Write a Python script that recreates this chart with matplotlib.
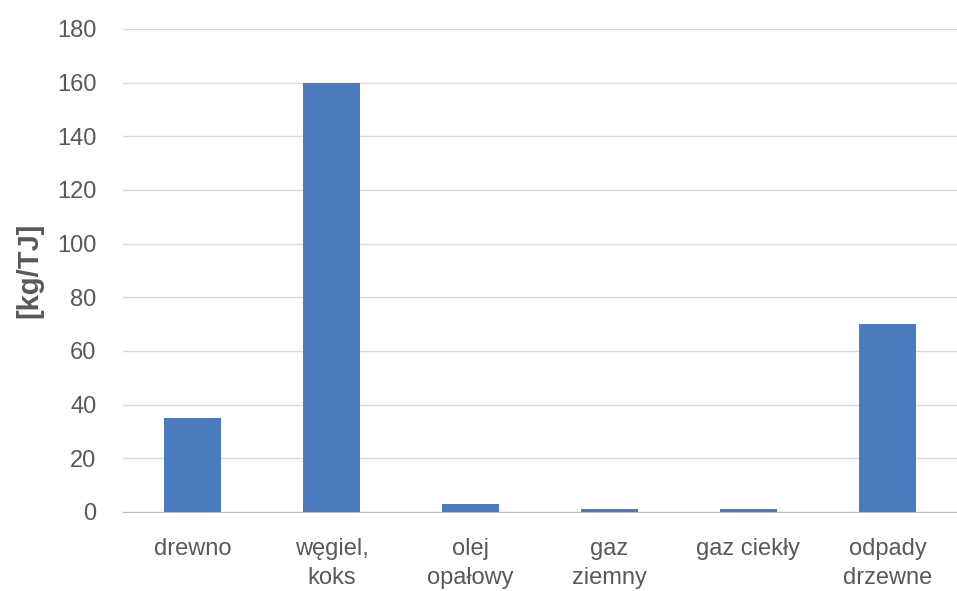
import numpy as np
import matplotlib.pyplot as plt

plt.rcParams['font.family'] = ['Liberation Sans', 'DejaVu Sans']

# dane
kategorie = ["drewno", "węgiel,\nkoks", "olej\nopałowy", "gaz\nziemny", "gaz ciekły", "odpady\ndrzewne"]
wartosci = [35, 160, 3, 1, 1, 70]

fig = plt.figure(figsize=(9.57, 5.91), dpi=100)
ax = fig.add_axes([0.1285, 0.1337, 0.8715, 0.8173])

x = np.arange(len(kategorie))
ax.bar(x, wartosci, width=0.41, color='#4a7bbd', zorder=3)

ax.set_xlim(-0.5, len(kategorie) - 0.5)
ax.set_ylim(0, 180)
ax.set_yticks(range(0, 181, 20))
ax.set_xticks(x)
ax.set_xticklabels(kategorie, linespacing=1.4)

ax.grid(axis='y', color='#d9d9d9', linewidth=1.0, zorder=0)
for s in ['top', 'right', 'left']:
    ax.spines[s].set_visible(False)
ax.spines['bottom'].set_color('#bfbfbf')
ax.tick_params(axis='both', length=0, labelcolor='#595959')
ax.tick_params(axis='y', pad=19, labelsize=17)
ax.tick_params(axis='x', pad=19, labelsize=17)

ax.set_ylabel("[kg/TJ]", fontsize=21, fontweight='bold', color='#595959', labelpad=10)

fig.savefig("out.png", dpi=100)
